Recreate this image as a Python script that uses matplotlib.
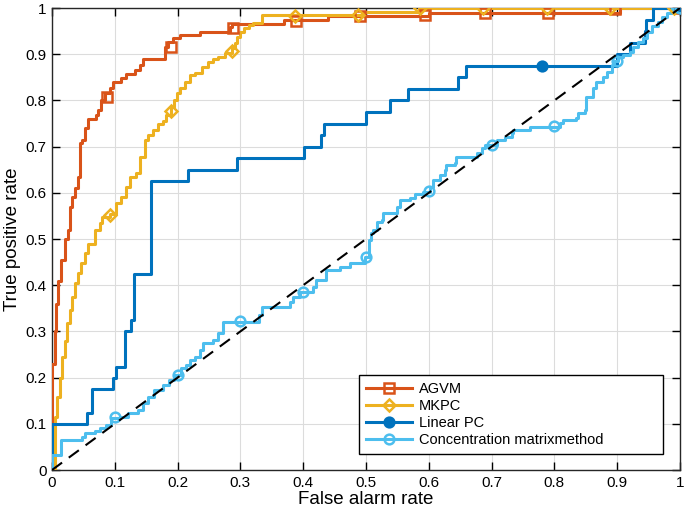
import numpy as np
import matplotlib.pyplot as plt
from matplotlib.lines import Line2D

# ROC step points: at fpr[i] the tpr jumps to tpr[i] (steps-post)
agvm_fpr = [0, 0, 0.004, 0.006, 0.010, 0.015, 0.020, 0.025, 0.028, 0.032, 0.037, 0.041, 0.044,
            0.048, 0.052, 0.057, 0.070, 0.073, 0.078, 0.085, 0.092, 0.097, 0.110, 0.118, 0.132,
            0.140, 0.145, 0.180, 0.185, 0.193, 0.204, 0.236, 0.283, 0.286, 0.370, 0.440, 0.600,
            0.905, 1.0]
agvm_tpr = [0, 0.23, 0.30, 0.36, 0.41, 0.455, 0.50, 0.52, 0.57, 0.59, 0.61, 0.635, 0.707,
            0.714, 0.74, 0.76, 0.768, 0.78, 0.80, 0.815, 0.826, 0.84, 0.848, 0.858, 0.866,
            0.876, 0.889, 0.916, 0.927, 0.935, 0.942, 0.948, 0.959, 0.965, 0.974, 0.983, 0.99,
            1.0, 1.0]

mkpc_fpr = [0, 0.004, 0.005, 0.008, 0.012, 0.016, 0.020, 0.024, 0.028, 0.032, 0.036, 0.041,
            0.046, 0.052, 0.058, 0.068, 0.076, 0.080, 0.092, 0.102, 0.110, 0.118, 0.124, 0.134,
            0.140, 0.148, 0.153, 0.161, 0.169, 0.177, 0.182, 0.190, 0.195, 0.199, 0.204, 0.212,
            0.220, 0.228, 0.239, 0.249, 0.257, 0.265, 0.276, 0.286, 0.291, 0.294, 0.300, 0.305,
            0.313, 0.320, 0.334, 0.495, 0.585, 1.0]
mkpc_tpr = [0, 0.10, 0.115, 0.158, 0.20, 0.245, 0.28, 0.318, 0.346, 0.375, 0.405, 0.426,
            0.448, 0.47, 0.49, 0.52, 0.535, 0.548, 0.555, 0.577, 0.59, 0.613, 0.635, 0.642,
            0.678, 0.715, 0.725, 0.736, 0.75, 0.755, 0.768, 0.786, 0.80, 0.815, 0.826, 0.84,
            0.855, 0.86, 0.873, 0.884, 0.889, 0.895, 0.902, 0.913, 0.924, 0.937, 0.948, 0.956,
            0.963, 0.968, 0.985, 0.992, 1.0, 1.0]

lpc_fpr = [0, 0, 0.056, 0.064, 0.097, 0.102, 0.117, 0.126, 0.130, 0.158, 0.217, 0.295, 0.401,
           0.428, 0.433, 0.500, 0.538, 0.567, 0.647, 0.660, 0.900, 0.920, 0.944, 0.946, 0.957, 1.0]
lpc_tpr = [0, 0.10, 0.124, 0.175, 0.20, 0.223, 0.30, 0.325, 0.424, 0.625, 0.65, 0.675, 0.70,
           0.725, 0.75, 0.775, 0.80, 0.825, 0.85, 0.875, 0.90, 0.925, 0.95, 0.975, 1.0, 1.0]

cm_fpr = [0, 0, 0.015, 0.047, 0.052, 0.068, 0.076, 0.086, 0.094, 0.108, 0.121, 0.137, 0.145,
          0.153, 0.163, 0.177, 0.187, 0.195, 0.206, 0.214, 0.219, 0.227, 0.235, 0.240, 0.256,
          0.264, 0.272, 0.330, 0.335, 0.379, 0.384, 0.395, 0.416, 0.421, 0.437, 0.459, 0.474,
          0.498, 0.505, 0.508, 0.511, 0.517, 0.525, 0.527, 0.549, 0.554, 0.570, 0.578, 0.590,
          0.602, 0.607, 0.618, 0.626, 0.628, 0.642, 0.644, 0.676, 0.684, 0.690, 0.708, 0.721,
          0.732, 0.734, 0.761, 0.809, 0.814, 0.835, 0.838, 0.849, 0.851, 0.862, 0.867, 0.878,
          0.883, 0.891, 0.895, 0.901, 0.909, 0.920, 0.925, 0.933, 0.941, 0.947, 0.955, 0.965,
          0.971, 0.979, 0.987, 1.0]
cm_tpr = [0, 0.032, 0.066, 0.072, 0.080, 0.084, 0.092, 0.097, 0.112, 0.115, 0.123, 0.130, 0.145,
          0.159, 0.173, 0.184, 0.195, 0.206, 0.220, 0.227, 0.238, 0.245, 0.260, 0.275, 0.281,
          0.296, 0.321, 0.336, 0.352, 0.364, 0.375, 0.386, 0.397, 0.411, 0.433, 0.440, 0.448,
          0.462, 0.498, 0.513, 0.520, 0.537, 0.541, 0.556, 0.570, 0.584, 0.588, 0.597, 0.602,
          0.613, 0.628, 0.638, 0.649, 0.660, 0.664, 0.678, 0.686, 0.696, 0.703, 0.714, 0.721,
          0.729, 0.736, 0.743, 0.751, 0.758, 0.762, 0.772, 0.779, 0.808, 0.826, 0.840, 0.851,
          0.862, 0.877, 0.886, 0.895, 0.898, 0.905, 0.916, 0.927, 0.935, 0.947, 0.960, 0.970,
          0.980, 0.990, 1.0, 1.0]

# marker positions along each curve
agvm_mx = [0.088, 0.19, 0.289, 0.389, 0.49, 0.594, 0.69, 0.79, 0.897, 1.0]
agvm_my = [0.808, 0.916, 0.957, 0.972, 0.983, 0.985, 0.99, 0.99, 0.997, 1.0]
mkpc_mx = [0.092, 0.19, 0.286, 0.387, 0.487, 0.586, 0.686, 0.788, 0.889, 0.99]
mkpc_my = [0.552, 0.778, 0.908, 0.983, 0.985, 1.0, 1.0, 1.0, 1.0, 1.0]
lpc_mx = [0.78, 1.0]
lpc_my = [0.875, 1.0]
cm_mx = [0.1, 0.2, 0.3, 0.4, 0.5, 0.6, 0.7, 0.8, 0.9, 1.0]
cm_my = [0.115, 0.205, 0.322, 0.386, 0.461, 0.603, 0.703, 0.745, 0.886, 1.0]

labels = ['AGVM', 'MKPC', 'Linear PC', 'Concentration matrixmethod']
colors = ['#D95319', '#EDB120', '#0072BD', '#4DBEEE']
markers = ['s', 'D', 'o', 'o']
ticks = [0, 0.1, 0.2, 0.3, 0.4, 0.5, 0.6, 0.7, 0.8, 0.9, 1]
tick_labels = ['0', '0.1', '0.2', '0.3', '0.4', '0.5', '0.6', '0.7', '0.8', '0.9', '1']

plt.rcParams['font.family'] = ['Liberation Sans', 'DejaVu Sans']

fig = plt.figure(figsize=(6.85, 5.17), dpi=100)
ax = fig.add_axes([0.0759, 0.0909, 0.9168, 0.8936])

curves = [(agvm_fpr, agvm_tpr, agvm_mx, agvm_my),
          (mkpc_fpr, mkpc_tpr, mkpc_mx, mkpc_my),
          (lpc_fpr, lpc_tpr, lpc_mx, lpc_my),
          (cm_fpr, cm_tpr, cm_mx, cm_my)]

handles = []
for (fx, fy, mx, my), c, m, lab in zip(curves, colors, markers, labels):
    ax.step(fx, fy, where='post', color=c, lw=2.2, zorder=3)
    face = c if lab == 'Linear PC' else 'none'
    ms = 6.5 if m == 'D' else 7
    ax.plot(mx, my, ls='none', marker=m, ms=ms, mec=c, mfc=face, mew=1.8, zorder=4)
    handles.append(Line2D([], [], color=c, lw=2.2, marker=m, ms=ms, mec=c, mfc=face, mew=1.8))

ax.plot([0, 1], [0, 1], color='black', ls=(0, (6, 4)), lw=1.5, zorder=5)

ax.set_xlim(0, 1)
ax.set_ylim(0, 1)
ax.set_xticks(ticks)
ax.set_xticklabels(tick_labels)
ax.set_yticks(ticks)
ax.set_yticklabels(tick_labels)
ax.tick_params(direction='in', length=6, width=1, top=True, right=True,
               labelsize=11, pad=4)
ax.grid(True, color='#dcdcdc', lw=0.8)
ax.set_axisbelow(True)
for s in ax.spines.values():
    s.set_linewidth(1)
    s.set_color('#262626')

ax.set_xlabel('False alarm rate', fontsize=13.5, labelpad=1)
ax.set_ylabel('True positive rate', fontsize=13.5, labelpad=3)

leg = ax.legend(handles, labels, loc='lower left', mode='expand',
                bbox_to_anchor=(0.489, 0.0346, 0.484, 0.173),
                borderaxespad=0, fontsize=10.5, handlelength=3.15, labelspacing=0.22,
                handletextpad=0.5, borderpad=0.45, fancybox=False, framealpha=1,
                edgecolor='black')
leg.get_frame().set_linewidth(1)

fig.savefig('out.png', dpi=100)
